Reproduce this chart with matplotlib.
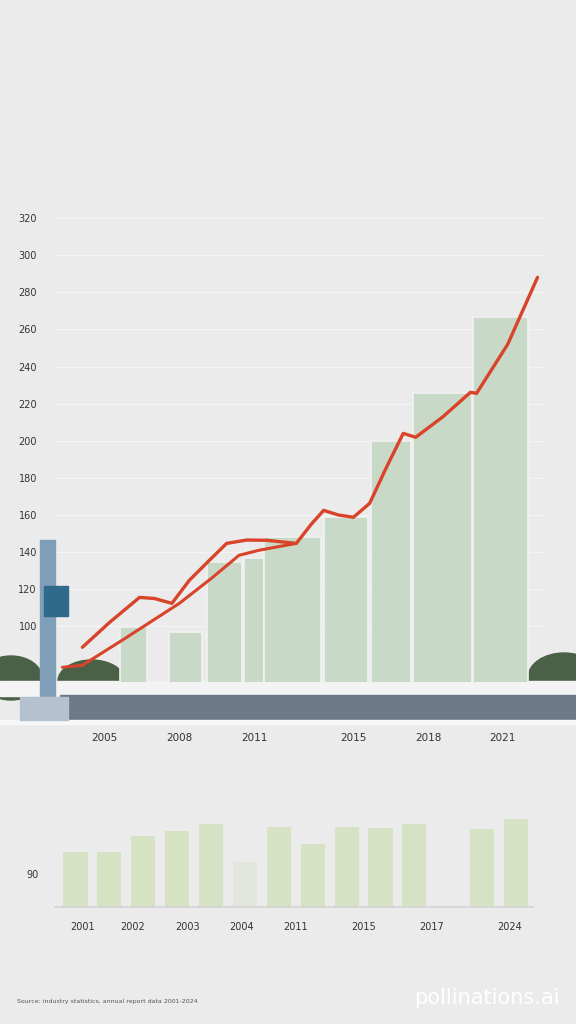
import numpy as np
import matplotlib
matplotlib.use("Agg")
import matplotlib.pyplot as plt
from matplotlib.patches import Rectangle, Ellipse

# main chart data
period_start = [2005.6, 2007.6, 2009.1, 2010.6, 2011.4, 2013.8, 2015.7, 2017.4, 2019.8]
period_end = [2006.7, 2008.9, 2010.5, 2011.4, 2013.7, 2015.6, 2017.3, 2019.75, 2022.0]
period_values = [99.5, 96.8, 134.5, 136.7, 148.0, 158.8, 200.0, 225.6, 266.6]

trend_years = [2004.1, 2005.2, 2006.4, 2007.0, 2007.7, 2008.4, 2009.2, 2009.9, 2010.7,
               2011.5, 2012.7, 2013.3, 2013.8, 2014.4, 2015.0, 2015.65, 2016.3,
               2017.0, 2017.5, 2018.6, 2019.7, 2019.95, 2021.2, 2022.4]
trend_values = [88.7, 102.2, 115.6, 115.0, 112.4, 124.8, 135.5, 144.7, 146.5,
                146.4, 144.7, 155.0, 162.5, 160.0, 158.8, 166.3, 185.0,
                204.0, 201.9, 213.0, 226.1, 225.6, 252.0, 288.1]

base_years = [2003.3, 2004.1, 2005.7, 2008.0, 2009.3, 2010.4, 2011.2, 2012.0, 2012.7]
base_values = [77.9, 79.0, 92.5, 112.4, 126.0, 138.3, 141.0, 143.0, 144.7]

y_ticks = [100, 120, 140, 160, 180, 200, 220, 240, 260, 280, 300, 320]
x_ticks = [2005, 2008, 2011, 2015, 2018, 2021]

# lower chart data
small_slots = [0, 1, 2, 3, 4, 5, 6, 7, 8, 9, 10, 12, 13]
small_values = [150, 150, 194, 207, 226, 123, 218, 172, 218, 215, 226, 213, 240]
small_faded = [False, False, False, False, False, True, False, False, False, False, False, False, False]
small_tick_pos = [0.2, 1.7, 3.3, 4.9, 6.5, 8.5, 10.5, 12.8]
small_tick_labels = ["2001", "2002", "2003", "2004", "2011", "2015", "2017", "2024"]

bg = "#ebebeb"
W, H = 576, 1024


def px_axes(fig, left, top, right, bottom):
    return fig.add_axes([left / W, 1 - bottom / H, (right - left) / W, (bottom - top) / H])


def px_rect(fig, x0, y0, x1, y1, **kw):
    fig.patches.append(Rectangle((x0 / W, 1 - y1 / H), (x1 - x0) / W, (y1 - y0) / H,
                                 transform=fig.transFigure, **kw))


def px_bush(fig, x0, y0, x1, y1):
    fig.patches.append(Ellipse(((x0 + x1) / 2 / W, 1 - (y0 + y1) / 2 / H), (x1 - x0) / W,
                               (y1 - y0) / H, transform=fig.transFigure,
                               color="#4a6148", zorder=1))


fig = plt.figure(figsize=(5.76, 10.24), dpi=100)
fig.patch.set_facecolor(bg)

# ground decoration under the main chart
px_bush(fig, -20, 656, 42, 700)
px_bush(fig, 58, 660, 125, 702)
px_bush(fig, 528, 653, 600, 702)
px_rect(fig, 0, 681, 576, 696, color="#f3f3f3", zorder=1)
px_rect(fig, 60, 695, 576, 720, color="#6d7889", zorder=1)
px_rect(fig, 0, 720, 576, 724, color="#f7f7f7", zorder=1)

ax = px_axes(fig, 55, 210, 545, 682)
ax.set_facecolor("none")
ax.set_zorder(2)
widths = np.array(period_end) - np.array(period_start)
ax.bar(period_start, period_values, width=widths, align="edge", color="#c9d9c8",
       edgecolor="#f2f2f2", linewidth=1.2, zorder=2)
ax.plot(base_years, base_values, color="#d9432a", lw=2.2, zorder=4, solid_capstyle="round")
ax.plot(trend_years, trend_values, color="#d9432a", lw=2.4, zorder=4, solid_capstyle="round")
ax.set_xlim(2003.0, 2022.7)
ax.set_ylim(70, 324.4)
ax.set_yticks(y_ticks)
ax.set_yticklabels([str(v) for v in y_ticks], fontsize=7, color="#333333")
ax.set_xticks(x_ticks)
ax.set_xticklabels([str(v) for v in x_ticks], fontsize=7.5, color="#333333")
ax.tick_params(axis="y", length=0, pad=13)
ax.tick_params(axis="x", length=0, pad=37)
ax.grid(axis="y", color="#f4f4f4", lw=0.9, zorder=0)
for s in ax.spines.values():
    s.set_visible(False)

# post on the left
px_rect(fig, 40, 540, 55, 700, color="#7f9fb8", zorder=3)
px_rect(fig, 44, 586, 68, 616, color="#2f6a8c", zorder=3)
px_rect(fig, 20, 697, 68, 720, color="#b4c2cf", zorder=3)

# lower chart
ax2 = px_axes(fig, 55, 810, 533, 907)
ax2.set_facecolor("none")
colors = ["#e2e6dc" if f else "#d6e2c4" for f in small_faded]
ax2.bar(small_slots, small_values, width=0.71, color=colors, zorder=2)
ax2.set_xlim(-0.605, 13.5)
ax2.set_ylim(0, 264.5)
ax2.set_yticks([90])
ax2.set_yticklabels(["90"], fontsize=7, color="#333333")
ax2.set_xticks(small_tick_pos)
ax2.set_xticklabels(small_tick_labels, fontsize=7, color="#333333")
ax2.tick_params(axis="both", length=0)
ax2.tick_params(axis="y", pad=12)
ax2.tick_params(axis="x", pad=11)
for s in ["top", "right", "left"]:
    ax2.spines[s].set_visible(False)
ax2.spines["bottom"].set_color("#d4d4d4")
ax2.spines["bottom"].set_linewidth(1.2)

fig.text(17 / W, 1 - 1001 / H, "Source: industry statistics, annual report data 2001-2024",
         fontsize=4.5, color="#555555", va="center")
fig.text(560 / W, 1 - 998 / H, "pollinations.ai", fontsize=15, color="#ffffff",
         ha="right", va="center")

fig.savefig("out.png", dpi=100, facecolor=bg)
